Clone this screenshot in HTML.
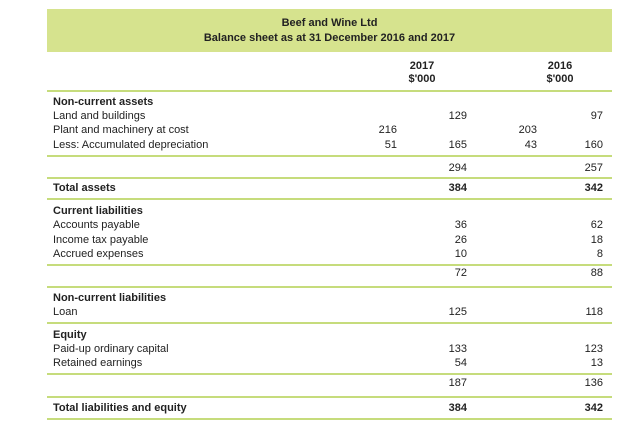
<!DOCTYPE html>
<html><head><style>
body{margin:0;width:640px;height:432px;background:#fff;font-family:"Liberation Sans",Arial,sans-serif;color:#222;position:relative;overflow:hidden}
.hd{position:absolute;left:47px;top:9px;width:565px;height:43px;background:#d6e38e;text-align:center;font-weight:bold;font-size:11px;line-height:15px;padding-top:7px;box-sizing:border-box}
.t{position:absolute;font-size:11px;white-space:nowrap;line-height:13px}
.b{font-weight:bold}
.r{text-align:right;width:60px}
.ln{position:absolute;left:47px;width:565px;height:2px;background:#c6dc7c}
</style></head><body>
<div class="hd">Beef and Wine Ltd<br>Balance sheet as at 31 December 2016 and 2017</div>
<div class="t b" style="left:392px;top:60px;width:60px;text-align:center">2017<br>$'000</div>
<div class="t b" style="left:530px;top:60px;width:60px;text-align:center">2016<br>$'000</div>
<div class="ln" style="top:90px"></div>

<div class="t b" style="left:53px;top:96px">Non-current assets</div>
<div class="t" style="left:53px;top:110px">Land and buildings</div>
<div class="t" style="left:53px;top:124px">Plant and machinery at cost</div>
<div class="t" style="left:53px;top:139px">Less: Accumulated depreciation</div>
<div class="t r" style="left:407px;top:110px">129</div>
<div class="t r" style="left:543px;top:110px">97</div>
<div class="t r" style="left:337px;top:124px">216</div>
<div class="t r" style="left:477px;top:124px">203</div>
<div class="t r" style="left:337px;top:139px">51</div>
<div class="t r" style="left:407px;top:139px">165</div>
<div class="t r" style="left:477px;top:139px">43</div>
<div class="t r" style="left:543px;top:139px">160</div>
<div class="ln" style="top:155px"></div>
<div class="t r" style="left:407px;top:162px">294</div>
<div class="t r" style="left:543px;top:162px">257</div>
<div class="ln" style="top:177px"></div>
<div class="t b" style="left:53px;top:182px">Total assets</div>
<div class="t r b" style="left:407px;top:182px">384</div>
<div class="t r b" style="left:543px;top:182px">342</div>
<div class="ln" style="top:198px"></div>

<div class="t b" style="left:53px;top:205px">Current liabilities</div>
<div class="t" style="left:53px;top:219px">Accounts payable</div>
<div class="t" style="left:53px;top:234px">Income tax payable</div>
<div class="t" style="left:53px;top:248px">Accrued expenses</div>
<div class="t r" style="left:407px;top:219px">36</div>
<div class="t r" style="left:543px;top:219px">62</div>
<div class="t r" style="left:407px;top:234px">26</div>
<div class="t r" style="left:543px;top:234px">18</div>
<div class="t r" style="left:407px;top:248px">10</div>
<div class="t r" style="left:543px;top:248px">8</div>
<div class="ln" style="top:264px"></div>
<div class="t r" style="left:407px;top:267px">72</div>
<div class="t r" style="left:543px;top:267px">88</div>
<div class="ln" style="top:286px"></div>

<div class="t b" style="left:53px;top:292px">Non-current liabilities</div>
<div class="t" style="left:53px;top:306px">Loan</div>
<div class="t r" style="left:407px;top:306px">125</div>
<div class="t r" style="left:543px;top:306px">118</div>
<div class="ln" style="top:322px"></div>

<div class="t b" style="left:53px;top:329px">Equity</div>
<div class="t" style="left:53px;top:343px">Paid-up ordinary capital</div>
<div class="t" style="left:53px;top:357px">Retained earnings</div>
<div class="t r" style="left:407px;top:343px">133</div>
<div class="t r" style="left:543px;top:343px">123</div>
<div class="t r" style="left:407px;top:357px">54</div>
<div class="t r" style="left:543px;top:357px">13</div>
<div class="ln" style="top:373px"></div>
<div class="t r" style="left:407px;top:377px">187</div>
<div class="t r" style="left:543px;top:377px">136</div>
<div class="ln" style="top:396px"></div>
<div class="t b" style="left:53px;top:402px">Total liabilities and equity</div>
<div class="t r b" style="left:407px;top:402px">384</div>
<div class="t r b" style="left:543px;top:402px">342</div>
<div class="ln" style="top:418px"></div>
</body></html>
